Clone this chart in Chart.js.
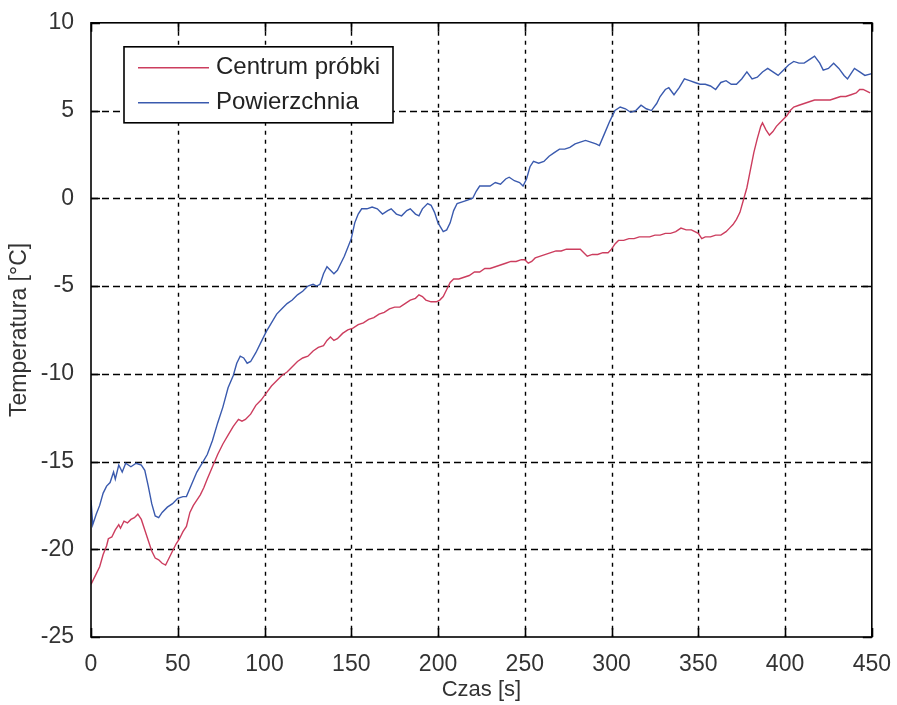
<!DOCTYPE html>
<html><head><meta charset="utf-8">
<script src="https://cdn.jsdelivr.net/npm/chart.js@4"></script>
<style>html,body{margin:0;padding:0;background:#fff;overflow:hidden;}</style>
</head><body>
<canvas id="c" width="897" height="705" style="width:897px;height:705px;display:block"></canvas>
<script>
const seriesNames = ['Centrum próbki', 'Powierzchnia'];
const xTickValues = [0, 50, 100, 150, 200, 250, 300, 350, 400, 450];
const yTickValues = [-25, -20, -15, -10, -5, 0, 5, 10];

const centrumTime = [0,1,3,5,7,9,10,12,14,16,17,19,21,23,25,27,29,31,33,35,37,39,41,43,45,47,49,51,53,55,57,59,61,63,65,67,70,73,76,79,82,85,87,89,92,95,98,101,104,107,110,113,116,119,122,125,128,131,134,136,138,140,142,145,148,151,154,157,160,163,166,169,172,175,178,181,184,187,189,191,193,196,199,201,203,205,207,209,212,215,218,221,224,227,230,233,236,239,242,245,248,250,252,254,256,259,262,265,268,271,274,277,280,282,284,286,289,292,295,298,300,302,304,307,310,313,316,319,322,325,328,331,334,337,340,343,346,348,350,352,354,357,360,363,366,368,370,372,374,376,378,380,382,384,386,387,389,391,393,395,397,399,401,403,405,408,411,414,417,420,423,426,429,432,435,438,441,443,445,447,449];
const centrumTemp = [-22.0,-21.8,-21.4,-21.0,-20.3,-19.8,-19.4,-19.3,-18.9,-18.6,-18.8,-18.4,-18.5,-18.3,-18.2,-18.0,-18.3,-18.9,-19.5,-20.1,-20.5,-20.6,-20.8,-20.9,-20.5,-20.1,-19.7,-19.4,-19.0,-18.7,-17.9,-17.5,-17.2,-16.9,-16.5,-16.0,-15.3,-14.6,-14.0,-13.5,-13.0,-12.6,-12.7,-12.6,-12.3,-11.8,-11.5,-11.1,-10.7,-10.4,-10.1,-9.9,-9.6,-9.3,-9.1,-9.0,-8.7,-8.5,-8.4,-8.1,-7.9,-8.1,-8.0,-7.7,-7.5,-7.4,-7.2,-7.1,-6.9,-6.8,-6.6,-6.5,-6.3,-6.2,-6.2,-6.0,-5.8,-5.7,-5.5,-5.6,-5.8,-5.9,-5.9,-5.8,-5.6,-5.2,-4.8,-4.6,-4.6,-4.5,-4.4,-4.2,-4.2,-4.0,-4.0,-3.9,-3.8,-3.7,-3.6,-3.6,-3.5,-3.5,-3.7,-3.6,-3.4,-3.3,-3.2,-3.1,-3.0,-3.0,-2.9,-2.9,-2.9,-2.9,-3.1,-3.3,-3.2,-3.2,-3.1,-3.1,-2.9,-2.6,-2.4,-2.4,-2.3,-2.3,-2.2,-2.2,-2.2,-2.1,-2.1,-2.0,-2.0,-1.9,-1.7,-1.8,-1.8,-1.9,-2.0,-2.3,-2.2,-2.2,-2.1,-2.1,-1.9,-1.7,-1.5,-1.2,-0.8,-0.1,0.6,1.6,2.6,3.4,4.1,4.3,3.9,3.6,3.8,4.1,4.3,4.5,4.7,5.0,5.2,5.3,5.4,5.5,5.6,5.6,5.6,5.6,5.7,5.8,5.8,5.9,6.0,6.2,6.2,6.1,6.0];

const powTime = [0,1,3,5,7,9,11,13,14,16,18,20,23,26,29,31,33,35,37,39,41,44,47,50,53,55,58,61,64,67,70,73,76,79,82,84,86,88,90,92,95,98,101,104,107,110,113,116,119,122,125,128,130,132,134,136,138,140,142,144,146,148,150,152,154,156,159,162,165,168,171,173,176,179,182,184,187,189,191,194,196,198,200,203,205,207,209,211,214,217,220,222,224,227,230,233,236,239,241,244,247,249,251,253,255,258,261,264,267,270,273,276,279,282,285,288,291,293,296,299,302,305,308,311,314,317,320,323,326,328,331,333,336,339,342,345,348,351,354,357,360,363,366,369,372,375,378,381,384,387,390,393,396,399,402,405,408,411,414,417,420,422,425,428,431,434,436,438,440,443,446,450];
const powTemp = [-17.2,-18.6,-18.0,-17.5,-16.8,-16.4,-16.2,-15.6,-16.0,-15.2,-15.6,-15.1,-15.3,-15.1,-15.2,-15.5,-16.4,-17.4,-18.1,-18.2,-17.9,-17.6,-17.4,-17.1,-17.0,-17.0,-16.3,-15.6,-15.1,-14.6,-13.8,-12.8,-11.9,-10.8,-10.1,-9.4,-9.0,-9.1,-9.4,-9.3,-8.8,-8.2,-7.6,-7.1,-6.6,-6.3,-6.0,-5.8,-5.5,-5.3,-5.0,-4.9,-5.0,-4.9,-4.3,-3.9,-4.1,-4.3,-4.1,-3.7,-3.3,-2.8,-2.3,-1.4,-0.9,-0.6,-0.6,-0.5,-0.6,-0.9,-0.7,-0.6,-0.9,-1.0,-0.7,-0.6,-0.9,-1.0,-0.6,-0.3,-0.4,-0.8,-1.4,-1.9,-1.8,-1.4,-0.7,-0.3,-0.2,-0.1,0.0,0.4,0.7,0.7,0.7,0.9,0.8,1.1,1.2,1.0,0.9,0.7,1.1,1.8,2.1,2.0,2.1,2.4,2.6,2.8,2.8,2.9,3.1,3.2,3.3,3.2,3.1,3.0,3.7,4.4,5.0,5.2,5.1,4.9,5.0,5.3,5.1,5.0,5.4,5.8,6.2,6.3,5.9,6.3,6.8,6.7,6.6,6.5,6.5,6.4,6.2,6.6,6.7,6.5,6.5,6.8,7.2,6.8,6.9,7.2,7.4,7.2,7.0,7.3,7.6,7.8,7.7,7.7,7.9,8.1,7.7,7.3,7.4,7.7,7.4,7.0,6.8,7.1,7.4,7.2,7.0,7.1];

const seriesColors = ['#cc3d5e', '#3a5aae'];

function toPoints(ts, vs) { return ts.map((t, i) => ({ x: t, y: vs[i] })); }

const FONT = '"Liberation Sans", Arial, sans-serif';

const frame = {
  id: 'matlabFrame',
  beforeDatasetsDraw(chart) {
    const { ctx, chartArea: a, scales: { x, y } } = chart;
    ctx.save();
    ctx.strokeStyle = '#000';
    ctx.lineWidth = 1.4;
    ctx.setLineDash([4, 5]);
    xTickValues.forEach(v => {
      const px = Math.round(x.getPixelForValue(v)) + 0.5;
      if (v === x.min || v === x.max) return;
      ctx.beginPath(); ctx.moveTo(px, a.top); ctx.lineTo(px, a.bottom); ctx.stroke();
    });
    ctx.setLineDash([7, 4]);
    yTickValues.forEach(v => {
      const py = Math.round(y.getPixelForValue(v)) + 0.5;
      if (v === y.min || v === y.max) return;
      ctx.beginPath(); ctx.moveTo(a.left, py); ctx.lineTo(a.right, py); ctx.stroke();
    });
    ctx.restore();
  },
  afterDatasetsDraw(chart) {
    const { ctx, chartArea: a, scales: { x, y } } = chart;
    ctx.save();
    ctx.strokeStyle = '#000';
    ctx.lineWidth = 1.6;
    ctx.setLineDash([]);
    ctx.strokeRect(a.left, a.top, a.right - a.left, a.bottom - a.top);
    const tl = 9;
    xTickValues.forEach(v => {
      const px = Math.round(x.getPixelForValue(v)) + 0.5;
      ctx.beginPath();
      ctx.moveTo(px, a.bottom); ctx.lineTo(px, a.bottom - tl);
      ctx.moveTo(px, a.top); ctx.lineTo(px, a.top + tl);
      ctx.stroke();
    });
    yTickValues.forEach(v => {
      const py = Math.round(y.getPixelForValue(v)) + 0.5;
      ctx.beginPath();
      ctx.moveTo(a.left, py); ctx.lineTo(a.left + tl, py);
      ctx.moveTo(a.right, py); ctx.lineTo(a.right - tl, py);
      ctx.stroke();
    });
    // legend box
    const bx = a.left + 33, by = a.top + 24, bw = 269, bh = 76;
    ctx.fillStyle = '#fff';
    ctx.fillRect(bx, by, bw, bh);
    ctx.lineWidth = 1.6;
    ctx.strokeRect(bx, by, bw, bh);
    ctx.font = '24px ' + FONT;
    ctx.textBaseline = 'middle';
    ctx.textAlign = 'left';
    chart.data.datasets.forEach((ds, i) => {
      const ly = by + 21 + i * 35;
      ctx.strokeStyle = ds.borderColor;
      ctx.lineWidth = 1.5;
      ctx.beginPath(); ctx.moveTo(bx + 14, ly); ctx.lineTo(bx + 85, ly); ctx.stroke();
      ctx.fillStyle = '#222';
      ctx.fillText(ds.label, bx + 92, ly);
    });
    ctx.restore();
  }
};

new Chart(document.getElementById('c'), {
  type: 'line',
  data: {
    datasets: [
      { label: seriesNames[0], data: toPoints(centrumTime, centrumTemp), borderColor: seriesColors[0], borderWidth: 1.4, pointRadius: 0, tension: 0, fill: false },
      { label: seriesNames[1], data: toPoints(powTime, powTemp), borderColor: seriesColors[1], borderWidth: 1.4, pointRadius: 0, tension: 0, fill: false }
    ]
  },
  options: {
    responsive: false,
    animation: false,
    devicePixelRatio: 1,
    layout: { padding: { left: 0, top: 18, right: 22, bottom: 0 } },
    plugins: { legend: { display: false }, tooltip: { enabled: false } },
    scales: {
      x: {
        type: 'linear', min: 0, max: 450,
        afterBuildTicks: s => { s.ticks = xTickValues.map(v => ({ value: v })); },
        afterFit: s => { s.height = 68; },
        grid: { display: false }, border: { display: false },
        ticks: { color: '#333', font: { family: FONT, size: 23 }, padding: 6, maxRotation: 0, autoSkip: false },
        title: { display: true, text: 'Czas [s]', color: '#333', font: { family: FONT, size: 22 }, padding: { top: 0, bottom: 2 } }
      },
      y: {
        type: 'linear', min: -25, max: 10,
        afterBuildTicks: s => { s.ticks = yTickValues.map(v => ({ value: v })); },
        afterFit: s => { s.width = 91; },
        grid: { display: false }, border: { display: false },
        ticks: { color: '#333', font: { family: FONT, size: 23 }, padding: 9, autoSkip: false },
        title: { display: true, text: 'Temperatura [°C]', color: '#333', font: { family: FONT, size: 23 }, padding: { top: 6, bottom: 0 } }
      }
    }
  },
  plugins: [frame]
});
</script>
</body></html>
